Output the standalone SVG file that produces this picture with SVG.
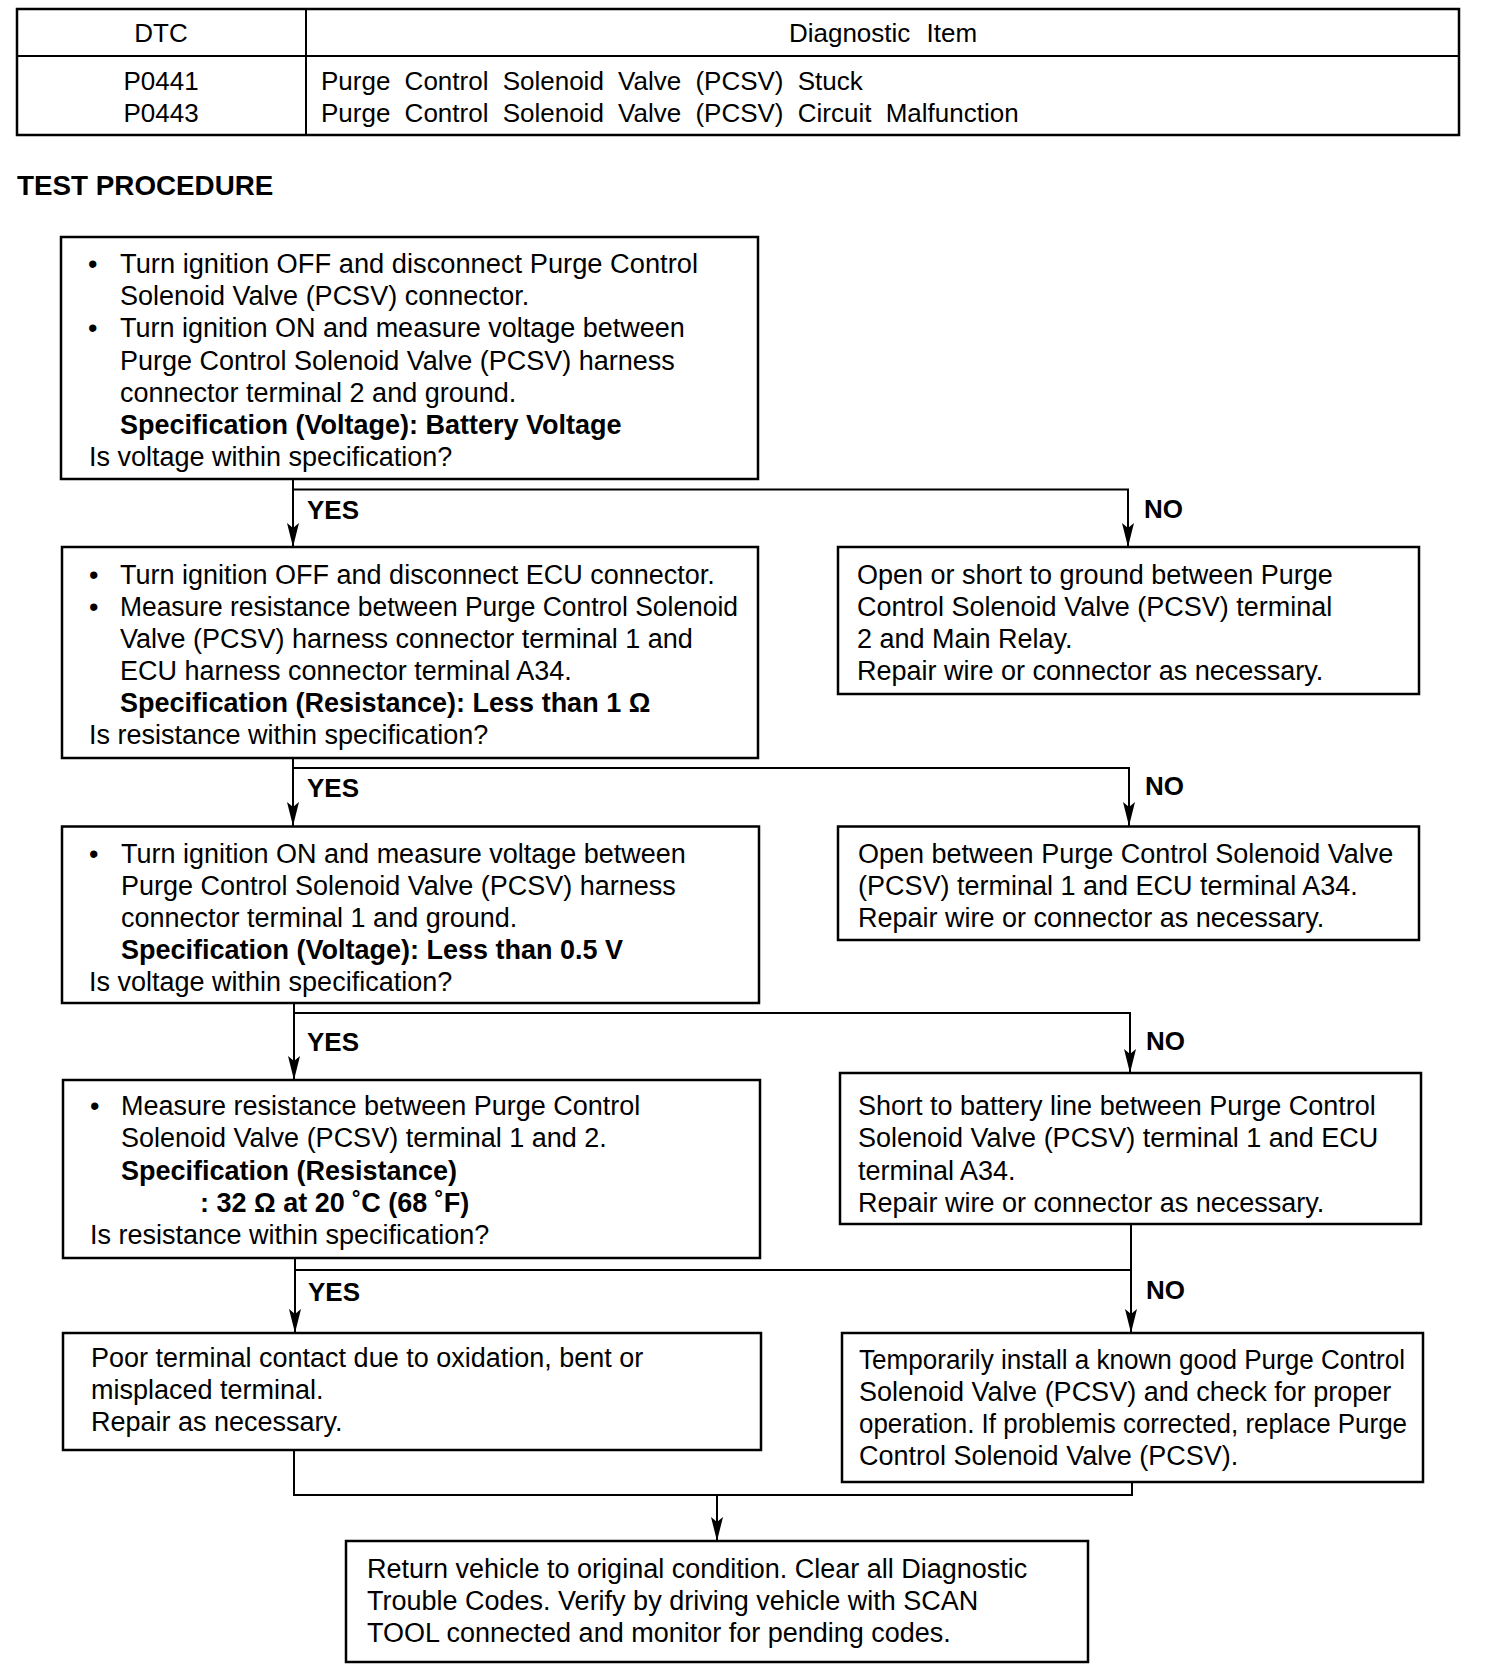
<svg xmlns="http://www.w3.org/2000/svg" width="1504" height="1678" viewBox="0 0 1504 1678">
<style>
.bx{fill:#fff;stroke:#000;stroke-width:2.5}
.ln{fill:none;stroke:#000;stroke-width:2}
text{font-family:"Liberation Sans",Arial,sans-serif;font-size:27px;fill:#000}
.b{font-weight:bold}
.lb{font-weight:bold;font-size:26px}
.tb{font-size:26px}
.ttl{font-weight:bold;font-size:27.8px}
</style>
<defs>
<marker id="ah" viewBox="0 0 24 12" refX="24" refY="6" markerWidth="24" markerHeight="12" markerUnits="userSpaceOnUse" orient="auto">
<path d="M0,0 L24,6 L0,12 L5,6 z" fill="#000"/>
</marker>
</defs>
<rect width="1504" height="1678" fill="#fff"/>

<g id="table">
<rect class="bx" x="17" y="9" width="1442" height="126"/>
<line class="ln" x1="17" y1="56" x2="1459" y2="56" stroke-width="2.5"/>
<line class="ln" x1="306" y1="9" x2="306" y2="135"/>
<text class="tb" x="161" y="42" text-anchor="middle">DTC</text>
<text class="tb" x="883" y="42" text-anchor="middle" word-spacing="9">Diagnostic Item</text>
<text class="tb" x="161" y="90" text-anchor="middle">P0441</text>
<text class="tb" x="161" y="122" text-anchor="middle">P0443</text>
<text class="tb" x="321" y="90" word-spacing="7">Purge Control Solenoid Valve (PCSV) Stuck</text>
<text class="tb" x="321" y="122" word-spacing="7">Purge Control Solenoid Valve (PCSV) Circuit Malfunction</text>
</g>

<text class="ttl" x="17" y="195">TEST PROCEDURE</text>

<g id="connectors">
<line class="ln" x1="293" y1="479" x2="293" y2="547" marker-end="url(#ah)"/>
<polyline class="ln" points="293,489.5 1128,489.5 1128,547" marker-end="url(#ah)"/>
<line class="ln" x1="293" y1="758" x2="293" y2="826" marker-end="url(#ah)"/>
<polyline class="ln" points="293,768 1129,768 1129,826" marker-end="url(#ah)"/>
<line class="ln" x1="294" y1="1003" x2="294" y2="1080" marker-end="url(#ah)"/>
<polyline class="ln" points="294,1013 1130,1013 1130,1073" marker-end="url(#ah)"/>
<line class="ln" x1="295" y1="1258" x2="295" y2="1333" marker-end="url(#ah)"/>
<line class="ln" x1="1131" y1="1224" x2="1131" y2="1333" marker-end="url(#ah)"/>
<line class="ln" x1="295" y1="1270" x2="1131" y2="1270"/>
<polyline class="ln" points="294,1450 294,1495 1132,1495 1132,1482"/>
<line class="ln" x1="717" y1="1495" x2="717" y2="1541" marker-end="url(#ah)"/>
<text class="lb" x="307" y="519">YES</text>
<text class="lb" x="1144" y="518">NO</text>
<text class="lb" x="307" y="797">YES</text>
<text class="lb" x="1145" y="795">NO</text>
<text class="lb" x="307" y="1051">YES</text>
<text class="lb" x="1146" y="1050">NO</text>
<text class="lb" x="308" y="1301">YES</text>
<text class="lb" x="1146" y="1299">NO</text>
</g>

<g id="step1">
<rect class="bx" x="61" y="237" width="697" height="242"/>
<text x="88" y="273">•</text>
<text x="120" y="273" textLength="578" lengthAdjust="spacingAndGlyphs">Turn ignition OFF and disconnect Purge Control</text>
<text x="120" y="305">Solenoid Valve (PCSV) connector.</text>
<text x="88" y="337">•</text>
<text x="120" y="337">Turn ignition ON and measure voltage between</text>
<text x="120" y="370">Purge Control Solenoid Valve (PCSV) harness</text>
<text x="120" y="402">connector terminal 2 and ground.</text>
<text class="b" x="120" y="434">Specification (Voltage): Battery Voltage</text>
<text x="89" y="466">Is voltage within specification?</text>
</g>

<g id="step2">
<rect class="bx" x="62" y="547" width="696" height="211"/>
<text x="89" y="584">•</text>
<text x="120" y="584">Turn ignition OFF and disconnect ECU connector.</text>
<text x="89" y="616">•</text>
<text x="120" y="616" textLength="618" lengthAdjust="spacingAndGlyphs">Measure resistance between Purge Control Solenoid</text>
<text x="120" y="648">Valve (PCSV) harness connector terminal 1 and</text>
<text x="120" y="680">ECU harness connector terminal A34.</text>
<text class="b" x="120" y="712">Specification (Resistance): Less than 1 Ω</text>
<text x="89" y="744">Is resistance within specification?</text>
</g>

<g id="fault1">
<rect class="bx" x="838" y="547" width="581" height="147"/>
<text x="857" y="584">Open or short to ground between Purge</text>
<text x="857" y="616">Control Solenoid Valve (PCSV) terminal</text>
<text x="857" y="648">2 and Main Relay.</text>
<text x="857" y="680">Repair wire or connector as necessary.</text>
</g>

<g id="step3">
<rect class="bx" x="62" y="826.5" width="697" height="176.5"/>
<text x="89" y="863">•</text>
<text x="121" y="863">Turn ignition ON and measure voltage between</text>
<text x="121" y="895">Purge Control Solenoid Valve (PCSV) harness</text>
<text x="121" y="927">connector terminal 1 and ground.</text>
<text class="b" x="121" y="959">Specification (Voltage): Less than 0.5 V</text>
<text x="89" y="991">Is voltage within specification?</text>
</g>

<g id="fault2">
<rect class="bx" x="838" y="826.5" width="581" height="113.5"/>
<text x="858" y="863">Open between Purge Control Solenoid Valve</text>
<text x="858" y="895">(PCSV) terminal 1 and ECU terminal A34.</text>
<text x="858" y="927">Repair wire or connector as necessary.</text>
</g>

<g id="step4">
<rect class="bx" x="63" y="1080" width="697" height="178"/>
<text x="90" y="1115">•</text>
<text x="121" y="1115">Measure resistance between Purge Control</text>
<text x="121" y="1147">Solenoid Valve (PCSV) terminal 1 and 2.</text>
<text class="b" x="121" y="1180">Specification (Resistance)</text>
<text class="b" x="200" y="1212">: 32 Ω at 20 ˚C (68 ˚F)</text>
<text x="90" y="1244">Is resistance within specification?</text>
</g>

<g id="fault3">
<rect class="bx" x="840" y="1073" width="581" height="151"/>
<text x="858" y="1115">Short to battery line between Purge Control</text>
<text x="858" y="1147">Solenoid Valve (PCSV) terminal 1 and ECU</text>
<text x="858" y="1180">terminal A34.</text>
<text x="858" y="1212">Repair wire or connector as necessary.</text>
</g>

<g id="fault4">
<rect class="bx" x="63" y="1333" width="698" height="117"/>
<text x="91" y="1367">Poor terminal contact due to oxidation, bent or</text>
<text x="91" y="1399">misplaced terminal.</text>
<text x="91" y="1431">Repair as necessary.</text>
</g>

<g id="fault5">
<rect class="bx" x="842" y="1333" width="581" height="149"/>
<text x="859" y="1369" textLength="546" lengthAdjust="spacingAndGlyphs">Temporarily install a known good Purge Control</text>
<text x="859" y="1401">Solenoid Valve (PCSV) and check for proper</text>
<text x="859" y="1433" textLength="548" lengthAdjust="spacingAndGlyphs">operation. If problemis corrected, replace Purge</text>
<text x="859" y="1465">Control Solenoid Valve (PCSV).</text>
</g>

<g id="final">
<rect class="bx" x="346" y="1541" width="742" height="121"/>
<text x="367" y="1578">Return vehicle to original condition. Clear all Diagnostic</text>
<text x="367" y="1610">Trouble Codes. Verify by driving vehicle with SCAN</text>
<text x="367" y="1642">TOOL connected and monitor for pending codes.</text>
</g>
</svg>
